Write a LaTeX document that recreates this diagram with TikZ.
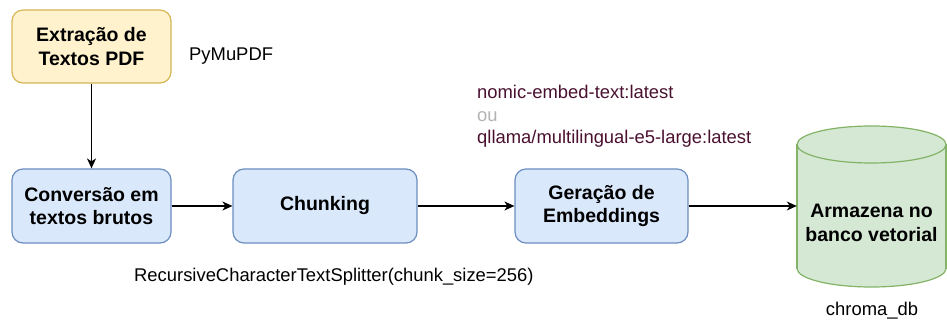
\documentclass[tikz,border=0pt]{standalone}
\usepackage{fontspec}
\setmainfont{Liberation Sans}
\usetikzlibrary{arrows.meta}
\definecolor{yfill}{HTML}{FFF2CC}
\definecolor{ydraw}{HTML}{D6B656}
\definecolor{bfill}{HTML}{DAE8FC}
\definecolor{bdraw}{HTML}{6C8EBF}
\definecolor{gfill}{HTML}{D5E8D4}
\definecolor{gdraw}{HTML}{82B366}
\definecolor{maroon}{HTML}{4A1030}
\definecolor{lgrey}{HTML}{B3B3B3}
\tikzset{
  stepbox/.style={draw=bdraw, fill=bfill, line width=1.2pt, rounded corners=11pt,
    align=center, inner sep=0pt, font=\fontsize{19.5}{23.4}\selectfont\bfseries},
  note/.style={inner sep=0pt, anchor=base west, font=\fontsize{18.4}{22}\selectfont},
  conn/.style={line width=1.2pt, -{Stealth[length=10pt,width=9pt,inset=3pt]}}
}
\begin{document}
\begin{tikzpicture}[x=1pt,y=-1pt]
\useasboundingbox (0,0) rectangle (947,320);
% boxes
\node[stepbox, draw=ydraw, fill=yfill, minimum width=159pt, minimum height=73pt] (ext) at (91.5,46.5) {Extração de\\Textos PDF};
\node[stepbox, minimum width=159pt, minimum height=74pt] (conv) at (91.5,206) {Conversão em\\textos brutos};
\node[stepbox, minimum width=184pt, minimum height=74pt] (chunk) at (325,206) {Chunking};
\node[stepbox, minimum width=173pt, minimum height=74pt] (emb) at (601.5,206) {Geração de\\Embeddings};
% cylinder
\fill[gfill] (871.5,268.5) ellipse [x radius=74.5, y radius=18.5];
\draw[gdraw, line width=1.2pt] (871.5,268.5) ellipse [x radius=74.5, y radius=18.5];
\fill[gfill] (797,144.5) rectangle (946,268.5);
\draw[gdraw, line width=1.2pt] (797,144.5) -- (797,268.5) (946,144.5) -- (946,268.5);
\filldraw[fill=gfill, draw=gdraw, line width=1.2pt] (871.5,144.5) ellipse [x radius=74.5, y radius=18.5];
\node[minimum width=149pt, minimum height=161pt, inner sep=0pt] (db) at (871.5,206) {};
\node[align=center, inner sep=0pt, font=\fontsize{19.5}{23.4}\selectfont\bfseries] (dbtext) at (871.5,223) {Armazena no\\banco vetorial};
% connectors
\draw[conn] (ext) -- (conv);
\draw[conn] (conv) -- (chunk);
\draw[conn] (chunk) -- (emb);
\draw[conn] (emb.east) -- (db.west);
% notes
\node[note] (pymu) at (189,60.5) {PyMuPDF};
\node[note, text=maroon] (nomic) at (477,99) {nomic-embed-text:latest};
\node[note, text=lgrey] (ou) at (477,121.5) {ou};
\node[note, text=maroon] (qll) at (477,144) {qllama/multilingual-e5-large:latest};
\node[note] (rec) at (134,281.5) {RecursiveCharacterTextSplitter(chunk\_size=256)};
\node[note, anchor=base] (chroma) at (872,315.5) {chroma\_db};
\end{tikzpicture}
\end{document}
